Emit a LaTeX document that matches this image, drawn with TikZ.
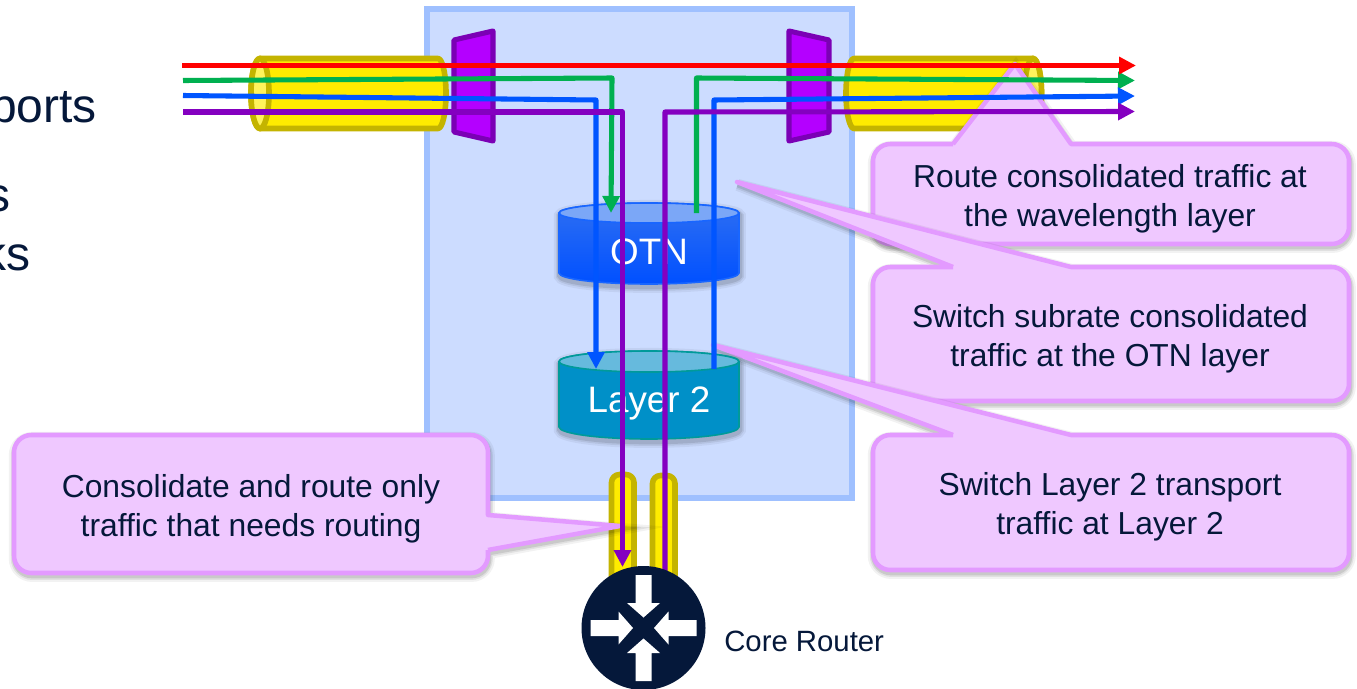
\documentclass[tikz,border=0pt]{standalone}
\usepackage{fontspec}
\setmainfont{Liberation Sans}
\usetikzlibrary{arrows.meta}
\definecolor{navy}{HTML}{05183A}
\definecolor{boxfill}{HTML}{CCDCFF}
\definecolor{boxline}{HTML}{9FC0FF}
\definecolor{tubeline}{HTML}{C4B400}
\definecolor{tubefill}{HTML}{FFEB00}
\definecolor{tubeend}{HTML}{FFF35C}
\definecolor{muxline}{HTML}{7B00B5}
\definecolor{muxfill}{HTML}{B400FF}
\definecolor{calline}{HTML}{E39AFF}
\definecolor{calfill}{HTML}{EFC8FF}
\definecolor{redline}{HTML}{FF0000}
\definecolor{greenline}{HTML}{00B050}
\definecolor{blueline}{HTML}{0055FF}
\definecolor{purpleline}{HTML}{8400C0}
\definecolor{otntop}{HTML}{2E6FF2}
\definecolor{otnbot}{HTML}{0050FF}
\definecolor{otncap}{HTML}{7BA7F7}
\definecolor{ltwoline}{HTML}{009A9A}
\definecolor{ltwofill}{HTML}{0090C8}
\definecolor{ltwocap}{HTML}{66BADD}
\tikzset{
  softshadow/.style={
    preaction={draw=black,draw opacity=.05,line width=9pt,transform canvas={xshift=.6pt,yshift=-2.2pt}},
    preaction={draw=black,draw opacity=.07,line width=6pt,transform canvas={xshift=.6pt,yshift=-2.2pt}},
    preaction={draw=black,draw opacity=.10,line width=4pt,transform canvas={xshift=.6pt,yshift=-2pt}}},
  callout/.style={softshadow,draw=calline,fill=calfill,line width=3.4pt,line join=round},
  calltext/.style={text=navy,align=center,inner sep=0pt,font=\fontsize{23.85}{29.25}\selectfont},
  bigtext/.style={text=navy,inner sep=0pt,anchor=base east,font=\fontsize{36}{43}\selectfont},
  cyltext/.style={text=white,inner sep=0pt,font=\fontsize{27.6}{33}\selectfont},
  tube/.style={draw=tubeline,fill=tubefill,line width=4.2pt,line join=round},
  tubeopen/.style={draw=tubeline,fill=tubeend,line width=4.2pt},
  mux/.style={draw=muxline,fill=muxfill,line width=3.8pt,line join=round},
  wire/.style={line width=3.8pt,line join=round},
  head/.style={-{Triangle[length=12.75pt,width=12.5pt]}},
  routerarrow/.style={fill=white,draw=none},
}
\begin{document}
\begin{tikzpicture}[x=0.75pt,y=-0.75pt]
\useasboundingbox (0,0) rectangle (1357,689);
\clip (0,0) rectangle (1357,689);
\fill[white] (0,0) rectangle (1357,689);

% clipped slide text
\node[bigtext] (tports) at (97,122) {ports};
\node[bigtext] (ts) at (11,211) {s};
\node[bigtext] (tks) at (31,270) {ks};

% central box
\draw[fill=boxfill,draw=boxline,line width=3.8pt] (427,9) rectangle (852,498);

% line tubes (y axis points down, so angle 90 is the lower side)
\draw[tube] (260,58.5) -- (438,58.5) arc[start angle=-90,end angle=90,x radius=8,y radius=35] -- (260,128.5) arc[start angle=90,end angle=270,x radius=9,y radius=35] -- cycle;
\draw[tubeopen] (260,93.5) ellipse[x radius=9,y radius=35];
\draw[tube] (854,58.5) -- (1033,58.5) arc[start angle=-90,end angle=90,x radius=8.5,y radius=35] -- (854,128.5) arc[start angle=90,end angle=270,x radius=8,y radius=35] -- cycle;
\draw[tubeopen] (1033,93.5) ellipse[x radius=8.5,y radius=35];

% multiplexers
\draw[mux] (454,40) -- (493,31) -- (493,141) -- (454,132) -- cycle;
\draw[mux] (789,31) -- (829,40) -- (829,132) -- (789,141) -- cycle;

% short tubes
\draw[tube,rounded corners=6pt] (611.5,600) -- (611.5,474.5) -- (634,474.5) -- (634,600);
\draw[tube,rounded corners=6pt] (652.5,600) -- (652.5,475.5) -- (675,475.5) -- (675,600);

% callouts
\draw[callout] (953,144) [sharp corners] -- (1015,64) -- (1071,144) [rounded corners=13pt] -- (1349,144) -- (1349,244) -- (873,244) -- (873,144) -- (953,144);
\node[calltext] (route) at (1110,198.5) {Route consolidated traffic at\\the wavelength layer};

\draw[callout] (953,267) [sharp corners] -- (737,182) -- (1071,267) [rounded corners=13pt] -- (1349,267) -- (1349,401) -- (873,401) -- (873,267) -- (953,267);
\node[calltext] (switch) at (1110,338.5) {Switch subrate consolidated\\traffic at the OTN layer};

\draw[callout] (953,435) [sharp corners] -- (713,345) -- (1071,435) [rounded corners=13pt] -- (1349,435) -- (1349,570) -- (873,570) -- (873,435) -- (953,435);
\node[calltext] (layer) at (1110,506.5) {Switch Layer 2 transport\\traffic at Layer 2};

\draw[callout] (488,550) [sharp corners] -- (620,526) -- (488,515) [rounded corners=13pt] -- (488,435) -- (14,435) -- (14,573) -- (488,573) -- (488,550);
\node[calltext] (consol) at (251,509) {Consolidate and route only\\traffic that needs routing};

% cylinders
\draw[softshadow,draw=blueline!90!white,line width=1.2pt,top color=otntop,bottom color=otnbot]
  (559,213) -- (559,273) arc[start angle=180,end angle=0,x radius=90,y radius=11] -- (739,213) arc[start angle=0,end angle=-180,x radius=90,y radius=10] -- cycle;
\draw[draw=blueline!90!white,line width=1.2pt,fill=otncap] (649,213) ellipse[x radius=90,y radius=10];
\node[cyltext] (otn) at (649,252) {OTN};

\draw[softshadow,draw=ltwoline,line width=1.2pt,fill=ltwofill]
  (559,361.5) -- (559,427) arc[start angle=180,end angle=0,x radius=90,y radius=12] -- (739,361.5) arc[start angle=0,end angle=-180,x radius=90,y radius=10.5] -- cycle;
\draw[draw=ltwoline,line width=1.2pt,fill=ltwocap] (649,361.5) ellipse[x radius=90,y radius=10.5];
\node[cyltext] (ltwo) at (649,403) {Layer 2};

% wire way-points
\coordinate (redA) at (182,65.5);   \coordinate (redB) at (1136,65.5);
\coordinate (grnA) at (183,80.5);   \coordinate (grnB) at (612,78);    \coordinate (grnC) at (611,213);
\coordinate (grnD) at (696.5,213);  \coordinate (grnE) at (696.5,78);  \coordinate (grnF) at (1135,80.5);
\coordinate (bluA) at (183,95.5);   \coordinate (bluB) at (596,100);   \coordinate (bluC) at (596,369);
\coordinate (bluD) at (714,369);    \coordinate (bluE) at (714,100);   \coordinate (bluF) at (1135,96);
\coordinate (purA) at (183,112);    \coordinate (purB) at (622.5,112); \coordinate (purC) at (622.5,567);
\coordinate (purD) at (665,590);    \coordinate (purE) at (665,112);   \coordinate (purF) at (1135,111.5);

\draw[wire,draw=greenline,head] (grnA) -- (grnB) -- (grnC);
\draw[wire,draw=greenline,head] (grnD) -- (grnE) -- (grnF);
\draw[wire,draw=blueline,head] (bluA) -- (bluB) -- (bluC);
\draw[wire,draw=blueline,head] (bluD) -- (bluE) -- (bluF);
\draw[wire,draw=purpleline,head] (purA) -- (purB) -- (purC);
\draw[wire,draw=purpleline,head] (purD) -- (purE) -- (purF);
\draw[wire,line width=4.2pt,draw=redline,head] (redA) -- (redB);

% router
\node[circle,fill=navy,minimum size=93pt,inner sep=0pt] (router) at (643.5,628) {};
\foreach \ang in {0,90,180,270}{
  \fill[routerarrow,shift={(router.center)},rotate=\ang]
    (0,-10.5) -- (16.5,-25) -- (8,-25) -- (8,-53) -- (-8,-53) -- (-8,-25) -- (-16.5,-25) -- cycle;
}
\node[text=navy,inner sep=0pt,anchor=west,font=\fontsize{22}{26}\selectfont] (core) at (724,641) {Core Router};
\end{tikzpicture}
\end{document}
